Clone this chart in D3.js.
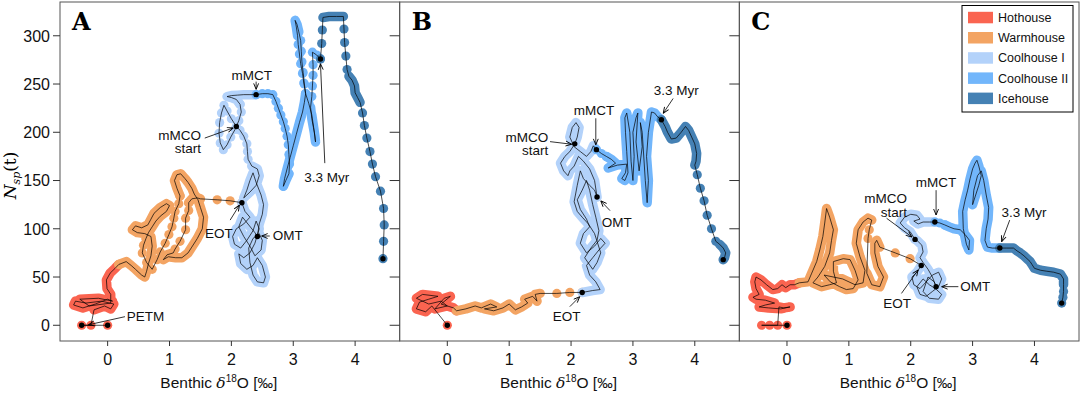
<!DOCTYPE html>
<html>
<head>
<meta charset="utf-8">
<script src="https://cdn.jsdelivr.net/npm/d3@7/dist/d3.min.js"></script>
<style>
  body { margin: 0; background: #fff; }
</style>
</head>
<body>
<svg id="chart"></svg>
<script>
  // Phases and colours
  var phases = ['Hothouse', 'Warmhouse', 'Coolhouse I', 'Coolhouse II', 'Icehouse'];
  var phaseColors = ['#fa6450', '#f3a463', '#b3d2fa', '#72b6fb', '#4581b4'];
  var xTicks = [0, 1, 2, 3, 4];
  var yTicks = [0, 50, 100, 150, 200, 250, 300];
  var panelNames = ['A', 'B', 'C'];

  var sans = "'Liberation Sans', Arial, sans-serif";
  var serif = "'DejaVu Serif', 'Liberation Serif', serif";

  // Trajectories: [phase, sampling, points [d18O, Nsp]]
  // 'line' = densely sampled stretch, 'dots' = sparse samples
  var runsA = [
    [0, 'dots', [[0, 0], [-0.42, 0], [-0.27, 0]]],
    [0, 'line', [[-0.22, 16], [-0.05, 20], [0.05, 17], [0.1, 22], [-0.1, 25], [-0.35, 23], [-0.52, 25], [-0.55, 21], [-0.4, 18], [-0.2, 22], [0.0, 27], [0.08, 25], [-0.15, 28], [-0.45, 27], [-0.3, 20], [0.05, 23], [0.05, 32], [-0.01, 38], [-0.02, 47], [0.04, 54], [0.12, 59], [0.18, 63]]],
    [1, 'line', [[0.18, 63], [0.3, 66], [0.38, 62], [0.45, 58], [0.55, 52], [0.6, 50], [0.63, 56], [0.66, 64], [0.7, 72], [0.72, 82], [0.7, 92], [0.6, 95], [0.48, 96], [0.4, 99], [0.45, 103], [0.55, 101], [0.65, 104], [0.7, 110], [0.75, 116], [0.85, 122], [0.95, 126], [1.0, 124], [0.95, 118], [0.85, 113], [0.78, 108], [0.72, 102], [0.66, 96], [0.62, 90]]],
    [1, 'dots', [[0.58, 83], [0.56, 75], [0.63, 65], [0.72, 58], [0.8, 68], [0.85, 76], [0.93, 85], [0.99, 94], [1.04, 102], [1.07, 111], [1.09, 118], [1.15, 126], [1.17, 134]]],
    [1, 'line', [[1.17, 134], [1.12, 142], [1.08, 150], [1.12, 156], [1.18, 157], [1.25, 152], [1.3, 148], [1.36, 142], [1.4, 136], [1.46, 130], [1.5, 122], [1.55, 112], [1.53, 100], [1.45, 90], [1.36, 81], [1.3, 75], [1.2, 70], [1.1, 70], [0.98, 71], [0.9, 68], [0.96, 73], [1.06, 75]]],
    [1, 'dots', [[1.09, 79], [1.17, 87], [1.26, 99], [1.26, 111], [1.31, 119], [1.31, 127]]],
    [1, 'line', [[1.31, 127], [1.36, 131], [1.45, 132], [1.5, 131]]],
    [1, 'dots', [[1.77, 130], [1.98, 129], [2.17, 127]]],
    [2, 'line', [[2.17, 127], [2.22, 118], [2.3, 112], [2.2, 105], [2.08, 100], [2.02, 92], [2.05, 84], [2.15, 80], [2.25, 88], [2.35, 98], [2.4, 108], [2.45, 100], [2.38, 85], [2.3, 75], [2.2, 70], [2.12, 74], [2.15, 64], [2.25, 58], [2.35, 62], [2.42, 70], [2.5, 62], [2.55, 50], [2.52, 44], [2.42, 45], [2.35, 52], [2.3, 65], [2.28, 80], [2.35, 90], [2.45, 95], [2.5, 88], [2.48, 78], [2.38, 72], [2.3, 82], [2.2, 92], [2.12, 102], [2.18, 112], [2.28, 104], [2.38, 96], [2.42, 92], [2.45, 105], [2.5, 115], [2.52, 125], [2.48, 135], [2.4, 148], [2.35, 158], [2.3, 150], [2.25, 140], [2.2, 132], [2.3, 138], [2.4, 145], [2.45, 155], [2.42, 162], [2.33, 165]]],
    [2, 'dots', [[2.27, 172], [2.26, 180], [2.25, 188], [2.2, 196], [2.14, 202], [2.08, 206], [2.0, 214], [1.93, 222], [1.88, 228], [1.84, 220], [1.81, 210], [1.8, 199], [1.82, 189], [1.87, 182], [1.93, 187], [1.99, 195], [2.06, 203], [2.12, 212], [2.16, 221], [2.14, 229]]],
    [2, 'line', [[2.14, 229], [2.08, 234], [2.0, 236], [1.93, 237], [2.0, 238], [2.1, 238.5], [2.2, 239], [2.3, 239], [2.4, 239]]],
    [3, 'dots', [[2.4, 239], [2.5, 240], [2.59, 240], [2.67, 239], [2.72, 232], [2.76, 225], [2.8, 218], [2.84, 211], [2.87, 204], [2.9, 196], [2.92, 187], [2.93, 177], [2.94, 167], [2.93, 157]]],
    [3, 'line', [[2.93, 157], [2.88, 150], [2.84, 144], [2.86, 152], [2.9, 162], [2.95, 174], [3.0, 186], [3.05, 198], [3.1, 210], [3.15, 221], [3.18, 231], [3.2, 240]]],
    [3, 'dots', [[3.17, 251], [3.15, 261], [3.12, 271], [3.1, 281], [3.08, 291]]],
    [3, 'line', [[3.07, 300], [3.05, 309], [3.03, 316], [3.06, 312], [3.09, 304]]],
    [3, 'dots', [[3.12, 295], [3.13, 284], [3.14, 273], [3.16, 262], [3.18, 250]]],
    [3, 'line', [[3.2, 240], [3.25, 230], [3.3, 218], [3.33, 205], [3.35, 196], [3.36, 190], [3.34, 200], [3.3, 214], [3.28, 226]]],
    [3, 'dots', [[3.3, 237], [3.31, 248], [3.32, 259], [3.32, 270], [3.31, 283], [3.38, 280], [3.44, 276]]],
    [4, 'dots', [[3.44, 276], [3.46, 292], [3.47, 306]]],
    [4, 'line', [[3.48, 319], [3.58, 320], [3.7, 320], [3.81, 320]]],
    [4, 'dots', [[3.82, 307], [3.83, 293], [3.85, 279], [3.87, 265]]],
    [4, 'line', [[3.9, 258], [3.95, 254], [3.99, 248], [4.0, 241], [4.04, 236], [4.08, 231]]],
    [4, 'dots', [[4.12, 220], [4.15, 207], [4.19, 194], [4.24, 180], [4.28, 167], [4.33, 154], [4.41, 139], [4.46, 121], [4.47, 104], [4.46, 87], [4.45, 69]]]
  ];

  var runsB = [
    [0, 'dots', [[0, 0]]],
    [0, 'line', [[-0.25, 20], [-0.35, 14], [-0.5, 17], [-0.45, 24], [-0.3, 27], [-0.15, 30], [-0.4, 32], [-0.5, 28], [-0.3, 22], [-0.1, 25], [0.0, 20], [-0.2, 17], [-0.05, 28], [0.05, 30], [-0.1, 22], [0.1, 18], [0.15, 15]]],
    [1, 'line', [[0.15, 15], [0.3, 17], [0.45, 20], [0.55, 18], [0.7, 22], [0.8, 19], [0.6, 17], [0.75, 15], [0.9, 18], [1.0, 22], [1.1, 16], [1.2, 19], [1.3, 23], [1.25, 27], [1.38, 30], [1.45, 25], [1.42, 32], [1.5, 33]]],
    [1, 'dots', [[1.77, 33], [1.98, 34], [2.18, 34]]],
    [2, 'line', [[2.18, 34], [2.35, 36], [2.47, 37], [2.4, 45], [2.3, 52], [2.25, 62], [2.35, 70], [2.45, 78], [2.55, 85], [2.48, 90], [2.38, 82], [2.25, 75], [2.15, 85], [2.2, 95], [2.3, 102], [2.25, 110], [2.15, 120], [2.1, 130], [2.18, 140], [2.25, 150], [2.3, 140], [2.35, 125], [2.4, 112], [2.45, 98], [2.42, 88], [2.32, 80], [2.22, 70], [2.35, 58], [2.42, 65], [2.48, 75], [2.38, 95], [2.28, 105], [2.18, 112], [2.1, 118], [2.05, 128], [2.1, 145], [2.15, 160], [2.2, 152], [2.3, 145], [2.38, 140], [2.42, 133], [2.38, 150], [2.3, 162], [2.2, 170], [2.12, 175], [2.05, 165], [1.98, 160], [1.95, 155], [1.88, 160], [1.83, 168], [1.9, 175], [1.98, 180], [2.06, 188], [2.1, 195], [2.13, 205], [2.08, 210], [2.02, 205], [1.98, 195], [2.05, 185], [2.15, 180], [2.25, 175], [2.32, 180], [2.36, 186], [2.41, 182]]],
    [3, 'dots', [[2.41, 182], [2.49, 178], [2.57, 175]]],
    [3, 'line', [[2.57, 175], [2.65, 172], [2.72, 168], [2.6, 163], [2.75, 166], [2.9, 167], [2.88, 158], [2.82, 152], [2.87, 150], [2.92, 158], [2.9, 180], [2.88, 200], [2.87, 215], [2.9, 220], [2.95, 200], [2.97, 170], [3.0, 150], [3.02, 175], [3.0, 200], [3.05, 215], [3.08, 220], [3.05, 190], [3.1, 160], [3.15, 185], [3.12, 210], [3.15, 200], [3.2, 150], [3.23, 127], [3.25, 150], [3.22, 175], [3.25, 200], [3.3, 221], [3.35, 220], [3.4, 216], [3.46, 213]]],
    [4, 'line', [[3.46, 213], [3.52, 206], [3.56, 200], [3.62, 193], [3.7, 194], [3.78, 200], [3.85, 206], [3.9, 202], [3.95, 195], [4.0, 188], [4.03, 178], [4.02, 170], [4.0, 166]]],
    [4, 'dots', [[4.04, 156], [4.09, 142], [4.15, 129], [4.2, 114], [4.27, 100], [4.34, 87]]],
    [4, 'line', [[4.4, 84], [4.46, 80], [4.5, 75], [4.48, 70], [4.46, 68]]]
  ];

  var runsC = [
    [0, 'dots', [[0, 0], [-0.41, 0], [-0.28, 0], [-0.15, 0]]],
    [0, 'line', [[-0.13, 19], [-0.05, 18], [0.05, 19], [-0.1, 17], [-0.3, 18], [-0.45, 19], [-0.35, 21], [-0.2, 23], [-0.35, 26], [-0.5, 27], [-0.55, 29], [-0.45, 32], [-0.5, 38], [-0.52, 45], [-0.5, 50], [-0.42, 47], [-0.33, 42], [-0.23, 37], [-0.15, 38], [-0.08, 42], [-0.02, 39], [0.05, 42], [0.12, 42], [0.2, 44]]],
    [1, 'line', [[0.2, 44], [0.34, 45], [0.4, 54], [0.48, 66], [0.53, 78], [0.58, 92], [0.61, 106], [0.64, 121], [0.69, 112], [0.75, 99], [0.72, 88], [0.69, 75], [0.61, 61], [0.5, 50], [0.42, 44], [0.56, 40], [0.69, 42], [0.8, 44], [0.75, 56], [0.75, 66], [0.91, 69], [1.02, 68], [1.1, 57], [1.15, 47], [1.07, 38], [0.96, 37], [0.85, 40], [0.7, 45], [0.6, 52], [0.9, 48], [1.1, 42], [1.23, 44], [1.26, 57], [1.18, 71], [1.12, 85], [1.15, 99], [1.23, 107], [1.31, 111], [1.37, 109]]],
    [1, 'dots', [[1.33, 99], [1.31, 90]]],
    [1, 'line', [[1.29, 54], [1.37, 42], [1.5, 40], [1.56, 50], [1.47, 61], [1.42, 75], [1.42, 85], [1.45, 88], [1.5, 81]]],
    [1, 'dots', [[1.75, 75], [1.99, 69], [2.17, 62]]],
    [2, 'line', [[2.17, 62], [2.1, 55], [2.02, 50], [2.05, 42], [2.15, 38], [2.25, 45], [2.35, 52], [2.45, 55], [2.5, 48], [2.45, 40], [2.35, 35], [2.25, 30], [2.15, 32], [2.1, 40], [2.2, 48], [2.3, 42], [2.4, 38], [2.5, 32], [2.45, 27], [2.3, 28], [2.2, 35], [2.28, 50], [2.38, 45], [2.41, 40], [2.35, 50], [2.28, 58], [2.2, 65], [2.15, 70], [2.2, 76], [2.18, 83], [2.1, 88], [2.07, 89], [1.99, 97], [1.9, 101], [1.83, 106], [1.9, 112], [2.0, 115], [2.1, 114], [2.15, 110], [2.05, 108], [2.12, 105], [2.2, 107], [2.3, 107], [2.39, 107]]],
    [3, 'dots', [[2.39, 107], [2.47, 106], [2.55, 104]]],
    [3, 'line', [[2.55, 104], [2.62, 102], [2.7, 100], [2.8, 99], [2.88, 94], [2.95, 88], [2.94, 78], [2.9, 84], [2.85, 100], [2.84, 118], [2.88, 130], [2.92, 140], [2.96, 152], [3.0, 162], [3.04, 168], [3.07, 171], [3.1, 165], [3.14, 155], [3.1, 145], [3.05, 135], [3.0, 125], [3.02, 140], [3.08, 155], [3.14, 160], [3.18, 150], [3.22, 135], [3.26, 122], [3.25, 110], [3.22, 100], [3.2, 88], [3.24, 81], [3.32, 80], [3.44, 80]]],
    [4, 'line', [[3.44, 80], [3.55, 80], [3.66, 80], [3.72, 77], [3.77, 75], [3.83, 72], [3.88, 69], [3.93, 66], [3.96, 63], [4.0, 59], [4.1, 57], [4.2, 56], [4.31, 55], [4.42, 53], [4.47, 48], [4.47, 42]]],
    [4, 'dots', [[4.47, 35], [4.46, 29], [4.44, 23]]]
  ];

  // Marked events (black points): [d18O, Nsp]
  var eventsA = [[0, 0], [-0.42, 0], [2.17, 127], [2.42, 92], [2.08, 206], [2.4, 239], [3.44, 276], [4.45, 69]];
  var eventsB = [[0, 0], [2.18, 34], [2.42, 133], [2.06, 188], [2.41, 182], [3.46, 213], [4.46, 68]];
  var eventsC = [[0, 0], [2.17, 62], [2.41, 40], [2.07, 89], [2.39, 107], [3.44, 80], [4.44, 23]];

  // Annotations: [lines, label x, label y, anchor, arrow from x, y, arrow to x, y]
  var notesA = [
    [['PETM'], 0.31, 4.5, 'start', 0.28, 8.9, -0.31, 0.5],
    [['EOT'], 1.80, 90.4, 'middle', 1.98, 109, 2.13, 124.5],
    [['OMT'], 2.67, 88.4, 'start', 2.62, 92.5, 2.49, 92.5],
    [['mMCO', 'start'], 1.51, 192, 'end', 1.57, 194, 2.03, 204.5],
    [['mMCT'], 2.33, 254, 'middle', 2.40, 252.5, 2.40, 244.5],
    [['3.3 Myr'], 3.54, 148.5, 'middle', 3.51, 168, 3.44, 271]
  ];
  var notesB = [
    [['EOT'], 1.93, 4.5, 'middle', 1.98, 19.3, 2.14, 29.6],
    [['OMT'], 2.74, 101.9, 'middle', 2.63, 118.8, 2.48, 129],
    [['mMCO', 'start'], 1.63, 190.3, 'end', 1.66, 190.3, 2.01, 187.6],
    [['mMCT'], 2.37, 218, 'middle', 2.40, 214.5, 2.40, 187],
    [['3.3 Myr'], 3.70, 238.6, 'middle', 3.65, 235, 3.49, 219.7]
  ];
  var notesC = [
    [['EOT'], 1.78, 18, 'middle', 1.85, 33, 2.12, 57.3],
    [['OMT'], 2.80, 35.5, 'start', 2.77, 40, 2.50, 40],
    [['mMCO', 'start'], 1.94, 126.7, 'end', 1.61, 110.9, 2.02, 91.5],
    [['mMCT'], 2.41, 143.3, 'middle', 2.41, 140, 2.41, 114.3],
    [['3.3 Myr'], 3.83, 112, 'middle', 3.60, 109, 3.47, 86.6]
  ];

  var allRuns = [runsA, runsB, runsC];
  var allEvents = [eventsA, eventsB, eventsC];
  var allNotes = [notesA, notesB, notesC];

  // SVG Setup
  var width = 1081, height = 394;
  var marginLeft = 60, marginTop = 2, pw = 339.67, ph = 339;

  var svg = d3.select('#chart')
    .attr('width', width)
    .attr('height', height)
    .style('font-family', sans);

  var defs = svg.append('defs');
  defs.append('marker')
    .attr('id', 'arrow')
    .attr('viewBox', '0 0 10 10')
    .attr('refX', 9.5).attr('refY', 5)
    .attr('markerUnits', 'userSpaceOnUse')
    .attr('markerWidth', 7).attr('markerHeight', 7)
    .attr('orient', 'auto')
    .append('path')
    .attr('d', 'M1,1.5 L9.5,5 L1,8.5')
    .attr('fill', 'none')
    .attr('stroke', '#000')
    .attr('stroke-width', 1.3);

  var xscale = d3.scaleLinear().domain([-0.77, 4.72]).range([0, pw]);
  var yscale = d3.scaleLinear().domain([-16.3, 335]).range([ph, 0]);

  var line = d3.line()
    .x(function(d) { return xscale(d[0]) })
    .y(function(d) { return yscale(d[1]) });

  panelNames.forEach(function(name, i) {
    var g = svg.append('g').attr('transform', 'translate(' + (marginLeft + i * pw) + ',' + marginTop + ')');
    var runs = allRuns[i];

    // coloured samples
    runs.forEach(function(run) {
      var col = phaseColors[run[0]];
      if (run[1] === 'line') {
        g.append('path')
          .attr('d', line(run[2]))
          .attr('fill', 'none')
          .attr('stroke', col)
          .attr('stroke-width', 9.5)
          .attr('stroke-linejoin', 'round')
          .attr('stroke-linecap', 'round');
      } else {
        g.selectAll(null)
          .data(run[2])
          .enter().append('circle')
          .attr('cx', function(d) { return xscale(d[0]) })
          .attr('cy', function(d) { return yscale(d[1]) })
          .attr('r', 4.6)
          .attr('fill', col);
      }
    });

    // thin black trajectory through every sample
    var path = [];
    runs.forEach(function(run) { path = path.concat(run[2]) });
    g.append('path')
      .attr('d', line(path))
      .attr('fill', 'none')
      .attr('stroke', '#000')
      .attr('stroke-width', 0.7)
      .attr('stroke-linejoin', 'round');

    // event markers
    g.selectAll(null)
      .data(allEvents[i])
      .enter().append('circle')
      .attr('cx', function(d) { return xscale(d[0]) })
      .attr('cy', function(d) { return yscale(d[1]) })
      .attr('r', 2.7)
      .attr('fill', '#000');

    // annotations
    allNotes[i].forEach(function(n) {
      g.append('line')
        .attr('x1', xscale(n[4])).attr('y1', yscale(n[5]))
        .attr('x2', xscale(n[6])).attr('y2', yscale(n[7]))
        .attr('stroke', '#000')
        .attr('stroke-width', 0.8)
        .attr('marker-end', 'url(#arrow)');
      var t = g.append('text')
        .attr('x', xscale(n[1]))
        .attr('y', yscale(n[2]))
        .attr('text-anchor', n[3])
        .attr('font-size', 13.5)
        .attr('fill', '#111');
      n[0].forEach(function(s, k) {
        t.append('tspan').attr('x', xscale(n[1])).attr('dy', k === 0 ? 0 : 13.5).text(s);
      });
    });

    // frame
    g.append('rect')
      .attr('width', pw).attr('height', ph)
      .attr('fill', 'none')
      .attr('stroke', '#555')
      .attr('stroke-width', 1);

    // x axis ticks
    xTicks.forEach(function(v) {
      g.append('line')
        .attr('x1', xscale(v)).attr('x2', xscale(v))
        .attr('y1', ph).attr('y2', ph + 5)
        .attr('stroke', '#333');
      g.append('text')
        .attr('x', xscale(v)).attr('y', ph + 24)
        .attr('text-anchor', 'middle')
        .attr('font-size', 16)
        .attr('fill', '#111')
        .text(v);
    });

    // y ticks (labels only on first panel)
    yTicks.forEach(function(v) {
      g.append('line')
        .attr('x1', i === 0 ? -7 : -10).attr('x2', 0)
        .attr('y1', yscale(v)).attr('y2', yscale(v))
        .attr('stroke', '#333');
      if (i === 0) {
        g.append('text')
          .attr('x', -10).attr('y', yscale(v))
          .attr('dy', '0.36em')
          .attr('text-anchor', 'end')
          .attr('font-size', 16)
          .attr('fill', '#111')
          .text(v);
      }
    });

    // x axis title
    var xt = g.append('text')
      .attr('x', pw / 2 - 11).attr('y', ph + 47)
      .attr('text-anchor', 'middle')
      .attr('font-size', 15.5)
      .attr('fill', '#111');
    xt.append('tspan').text('Benthic ');
    xt.append('tspan').style('font-family', serif).style('font-style', 'italic').text('δ');
    xt.append('tspan').attr('font-size', 10).attr('dy', -6).text('18');
    xt.append('tspan').attr('dy', 6).text('O [‰]');

    // panel letter
    g.append('text')
      .attr('x', 12).attr('y', 28)
      .style('font-family', serif)
      .style('font-weight', 'bold')
      .attr('font-size', 24)
      .attr('fill', '#000')
      .text(name);
  });

  // y axis title
  var yt = svg.append('text')
    .attr('transform', 'translate(16,' + (marginTop + ph / 2 + 4) + ') rotate(-90)')
    .attr('text-anchor', 'middle')
    .style('font-family', serif)
    .attr('font-size', 17)
    .attr('fill', '#000');
  yt.append('tspan').style('font-style', 'italic').text('N');
  yt.append('tspan').style('font-style', 'italic').attr('font-size', 11).attr('dy', 4).text('sp');
  yt.append('tspan').attr('dy', -4).text('(t)');

  // Legend
  var lg = svg.append('g').attr('transform', 'translate(962,5.5)');
  lg.append('rect')
    .attr('width', 111).attr('height', 106.5)
    .attr('fill', '#fff')
    .attr('stroke', '#000')
    .attr('stroke-width', 1);
  phases.forEach(function(p, k) {
    lg.append('rect')
      .attr('x', 6).attr('y', 6.3 + k * 20.2)
      .attr('width', 25).attr('height', 11.5)
      .attr('fill', phaseColors[k]);
    lg.append('text')
      .attr('x', 36).attr('y', 12 + k * 20.2)
      .attr('dy', '0.36em')
      .attr('font-size', 12.5)
      .attr('fill', '#111')
      .text(p);
  });
</script>
</body>
</html>
